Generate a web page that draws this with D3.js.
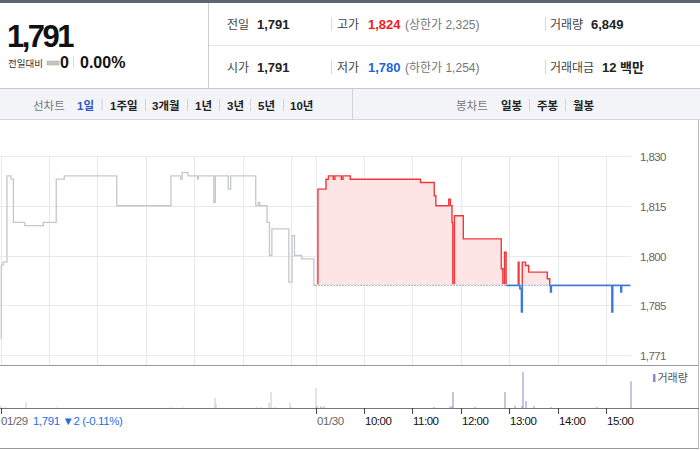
<!DOCTYPE html>
<html><head><meta charset="utf-8">
<script src="https://cdn.jsdelivr.net/npm/d3@7"></script>
<style>
html,body{margin:0;padding:0;background:#fff;}
svg{display:block;font-family:"Liberation Sans",Arial,"Noto Sans CJK KR",sans-serif;}
</style></head><body>
<svg id="c" width="700" height="450"></svg>
<script>
// ---------------- data ----------------
const prevDate = "01/29", todayDate = "01/30";
const basePrice = 1791;
const prevTimes  = ["09:00","09:01","09:03","09:08","09:13","09:16","09:30","09:53","10:09","10:19","11:24","12:31","12:43","12:45","12:52","13:04","13:05","13:24","13:26","13:42","13:45","14:16","14:19","14:21","14:30","14:33","14:36","14:57","15:01","15:04","15:13","15:28","15:30"];
const prevPrices = [1775,1797,1798,1824,1823,1810,1809,1810,1823,1824,1815,1824,1823,1825,1824,1823,1824,1816,1824,1820,1824,1815,1816,1815,1810,1800,1808,1792,1806,1800,1799,1791,1791];
const todayTimes  = ["09:00","09:03","09:13","09:16","09:22","09:24","09:32","09:34","09:43","11:10","11:27","11:29","11:45","11:47","11:49","11:50","11:52","12:03","12:50","12:52","12:54","12:56","13:11","13:12","13:13","13:15","13:16","13:20","13:24","13:47","13:50","13:51","13:52","15:07","15:08","15:18","15:19","15:30"];
const todayPrices = [1791,1820,1823,1824,1823,1824,1823,1824,1823,1822,1818,1815,1817,1815,1810,1791,1812,1805,1796,1791,1801,1791,1798,1791,1790,1783,1798,1797,1795,1793,1791,1789,1791,1783,1791,1789,1791,1791];
const prevVolTimes = ["09:00","09:06","09:31","10:10","12:31","12:46","13:26","13:27","14:17","14:22","14:32","14:35","14:40","14:59","15:00","15:30"];
const prevVolumes  = [120,50,350,40,40,40,580,230,50,50,290,920,50,290,50,1150];
const todayVolTimes = ["09:02","09:07","09:10","11:27","11:47","11:49","11:50","12:17","12:54","13:07","13:16","13:17","13:20","13:30","13:51","14:49","15:30"];
const todayVolumes  = [80,90,80,50,80,120,920,50,920,120,110,2080,400,110,50,50,1539];
const priceTicks = [1830,1815,1800,1785,1770];
const priceTickLabels = ["1,830","1,815","1,800","1,785","1,771"];
const hourTicks = ["10:00","11:00","12:00","13:00","14:00","15:00"];
const prevHourGrid = ["10:00","11:00","12:00","13:00","14:00","15:00"];
const rangeButtons = ["1일","1주일","3개월","1년","3년","5년","10년"];
const candleButtons = ["일봉","주봉","월봉"];

// ---------------- helpers ----------------
const svg = d3.select("#c");
const toMin = (t, day) => { const [h,m] = t.split(":").map(Number); return day*390 + (h-9)*60 + m; };
const prevData = prevTimes.map((t,i)=>({t:toMin(t,0), v:prevPrices[i]}));
const todayData = todayTimes.map((t,i)=>({t:toMin(t,1), v:todayPrices[i]}));

// ---------------- header ----------------
svg.append("rect").attr("x",0).attr("y",0).attr("width",700).attr("height",3).attr("fill","#5e646c");
svg.append("line").attr("x1",208.5).attr("x2",208.5).attr("y1",3).attr("y2",88).attr("stroke","#cfcfcf");
svg.append("line").attr("x1",209).attr("x2",700).attr("y1",45.5).attr("y2",45.5).attr("stroke","#e6e6e6");

svg.append("text").attr("x",7).attr("y",47).attr("font-size",31).attr("font-weight","bold")
  .attr("letter-spacing","-2.5px").attr("fill","#111").text("1,791");
svg.append("text").attr("x",8).attr("y",67).attr("font-size",9.5).attr("fill","#333").text("전일대비");
svg.append("rect").attr("x",47).attr("y",61).attr("width",12).attr("height",4).attr("fill","#c4c4c4").attr("stroke","#a9a9a9").attr("stroke-width",0.5);
svg.append("text").attr("x",60).attr("y",67.5).attr("font-size",16).attr("font-weight","bold").attr("fill","#111").text("0");
svg.append("line").attr("x1",73.5).attr("x2",73.5).attr("y1",56).attr("y2",68).attr("stroke","#ddd");
svg.append("text").attr("x",80).attr("y",67.5).attr("font-size",16).attr("font-weight","bold").attr("fill","#111").text("0.00%");

function quote(y, label, lx, val, vx, col){
  svg.append("text").attr("x",lx).attr("y",y).attr("font-size",12).attr("fill","#444").text(label);
  svg.append("text").attr("x",vx).attr("y",y).attr("font-size",13).attr("font-weight","bold").attr("fill",col).text(val);
}
quote(28.5,"전일",227,"1,791",257,"#222");
quote(28.5,"고가",337,"1,824",368,"#f01c1c");
quote(28.5,"거래량",550,"6,849",591,"#222");
quote(71.5,"시가",227,"1,791",257,"#222");
quote(71.5,"저가",337,"1,780",368,"#1b66dc");
quote(71.5,"거래대금",550,"12 백만",602,"#222");
svg.append("text").attr("x",405).attr("y",28.5).attr("font-size",12).attr("fill","#777").text("(상한가 2,325)");
svg.append("text").attr("x",405).attr("y",71.5).attr("font-size",12).attr("fill","#777").text("(하한가 1,254)");
[[331,17,31],[545,17,31],[331,60,74],[545,60,74]].forEach(s=>{
  svg.append("line").attr("x1",s[0]+.5).attr("x2",s[0]+.5).attr("y1",s[1]).attr("y2",s[2]).attr("stroke","#d8d8d8");
});

// toolbar
svg.append("rect").attr("x",0).attr("y",88).attr("width",700).attr("height",32).attr("fill","#f3f4f8");
svg.append("line").attr("x1",0).attr("x2",700).attr("y1",88.5).attr("y2",88.5).attr("stroke","#c9c9c9");
svg.append("line").attr("x1",0).attr("x2",700).attr("y1",119.5).attr("y2",119.5).attr("stroke","#d6d6d6");
svg.append("line").attr("x1",352.5).attr("x2",352.5).attr("y1",89).attr("y2",119).attr("stroke","#d3d3d3");
svg.append("text").attr("x",33).attr("y",109.5).attr("font-size",11.5).attr("fill","#777").text("선차트");
const rbX = [77,110,152,195,227,258,290];
const rbSep = [101.5,145,187,219,250,283];
rangeButtons.forEach((b,i)=>{
  svg.append("text").attr("x",rbX[i]).attr("y",109.5).attr("font-size",11.5).attr("font-weight","bold")
    .attr("fill", i===0 ? "#2f56c6" : "#222").text(b);
});
rbSep.forEach(s=>svg.append("line").attr("x1",s+.5).attr("x2",s+.5).attr("y1",99).attr("y2",111).attr("stroke","#d3d3d3"));
svg.append("text").attr("x",456).attr("y",109.5).attr("font-size",11.5).attr("fill","#777").text("봉차트");
const cbX = [501,537,573];
candleButtons.forEach((b,i)=>{
  svg.append("text").attr("x",cbX[i]).attr("y",109.5).attr("font-size",11.5).attr("font-weight","bold").attr("fill","#222").text(b);
});
[529,565].forEach(s=>svg.append("line").attr("x1",s+.5).attr("x2",s+.5).attr("y1",99).attr("y2",111).attr("stroke","#d3d3d3"));

// ---------------- price chart ----------------
const x = d3.scaleLinear().domain([0,780]).range([0.5,630.5]);
const y = d3.scaleLinear().domain([1770,1830]).range([355,156]);
const yb = y(basePrice);

const grid = svg.append("g");
priceTicks.forEach((p,i)=>{
  const yy = Math.round(y(p))+0.5;
  grid.append("line").attr("x1",0).attr("x2",631).attr("y1",yy).attr("y2",yy).attr("stroke","#e9e9e9");
  svg.append("text").attr("x",640).attr("y",yy+4).attr("font-size",11.5).attr("letter-spacing","-0.6px")
    .attr("fill","#666").text(priceTickLabels[i]);
});
const vGrid = [toMin("09:00",0)].concat(prevHourGrid.map(t=>toMin(t,0)), [toMin("09:00",1)], hourTicks.map(t=>toMin(t,1)));
vGrid.forEach(m=>{
  const xx = Math.round(x(m))+0.5;
  grid.append("line").attr("x1",xx).attr("x2",xx).attr("y1",Math.round(y(1830))).attr("y2",365).attr("stroke","#e9e9e9");
});

const line = d3.line().x(d=>x(d.t)).y(d=>y(d.v)).curve(d3.curveStepAfter);
const area = d3.area().x(d=>x(d.t)).y0(yb).y1(d=>y(d.v)).curve(d3.curveStepAfter);

svg.append("path").datum(prevData).attr("d",line).attr("fill","none").attr("stroke","#c4c7cd").attr("stroke-width",1.3);

const defs = svg.append("defs");
defs.append("clipPath").attr("id","up").append("rect").attr("x",0).attr("y",0).attr("width",700).attr("height",yb-1);
defs.append("clipPath").attr("id","down").append("rect").attr("x",0).attr("y",yb-1).attr("width",700).attr("height",200);

svg.append("path").datum(todayData).attr("d",area).attr("fill","#fde4e5").attr("clip-path","url(#up)");
svg.append("path").datum(todayData).attr("d",area).attr("fill","#dde8f8").attr("clip-path","url(#down)");
svg.append("line").attr("x1",x(390)).attr("x2",x(780)).attr("y1",yb).attr("y2",yb)
  .attr("stroke","#666").attr("stroke-dasharray","1,2");
svg.append("path").datum(todayData).attr("d",line).attr("fill","none").attr("stroke","#f2373a").attr("stroke-width",1.4).attr("clip-path","url(#up)");
svg.append("path").datum(todayData.filter(d=>d.t>=toMin("12:56",1))).attr("d",line).attr("fill","none").attr("stroke","#3a7ad9").attr("stroke-width",1.6).attr("clip-path","url(#down)");

// panel frame
svg.append("line").attr("x1",0).attr("x2",699).attr("y1",365.5).attr("y2",365.5).attr("stroke","#999");
svg.append("line").attr("x1",698.5).attr("x2",698.5).attr("y1",120).attr("y2",449).attr("stroke","#bbb");
svg.append("line").attr("x1",0).attr("x2",699).attr("y1",448.5).attr("y2",448.5).attr("stroke","#999");

// ---------------- volume ----------------
const v = d3.scaleLinear().domain([0,2100]).range([408,371.5]);
prevVolTimes.forEach((t,i)=>{
  svg.append("rect").attr("x",Math.round(x(toMin(t,0)))-0.5).attr("width",1)
    .attr("y",v(prevVolumes[i])).attr("height",408-v(prevVolumes[i])).attr("fill","#c6c6cf");
});
todayVolTimes.forEach((t,i)=>{
  svg.append("rect").attr("x",Math.round(x(toMin(t,1)))-0.5).attr("width",1)
    .attr("y",v(todayVolumes[i])).attr("height",408-v(todayVolumes[i])).attr("fill","#9783c6");
});
svg.append("rect").attr("x",653).attr("y",374).attr("width",2.5).attr("height",8).attr("fill","#9783c6");
svg.append("text").attr("x",657.5).attr("y",382).attr("font-size",11).attr("fill","#555").text("거래량");

// time axis
svg.append("line").attr("x1",0).attr("x2",699).attr("y1",408.5).attr("y2",408.5).attr("stroke","#777");
const axisTicks = [toMin("09:00",0), toMin("09:00",1)].concat(hourTicks.map(t=>toMin(t,1)));
axisTicks.forEach(m=>{
  const xx = Math.round(x(m))+0.5;
  svg.append("line").attr("x1",xx).attr("x2",xx).attr("y1",408).attr("y2",414).attr("stroke","#444");
});
svg.append("text").attr("x",1).attr("y",425).attr("font-size",11.5).attr("letter-spacing","-0.4px").attr("fill","#666").text(prevDate);
svg.append("text").attr("x",33).attr("y",425).attr("font-size",11.5).attr("letter-spacing","-0.4px").attr("fill","#1f6fdc").text("1,791 ▼2 (-0.11%)");
svg.append("text").attr("x",Math.round(x(toMin("09:00",1)))+1).attr("y",425).attr("font-size",11.5).attr("letter-spacing","-0.4px").attr("fill","#666").text(todayDate);
hourTicks.forEach(t=>{
  svg.append("text").attr("x",Math.round(x(toMin(t,1)))+1).attr("y",425).attr("font-size",11.5)
    .attr("letter-spacing","-0.5px").attr("fill","#111").text(t);
});
</script>
</body></html>
